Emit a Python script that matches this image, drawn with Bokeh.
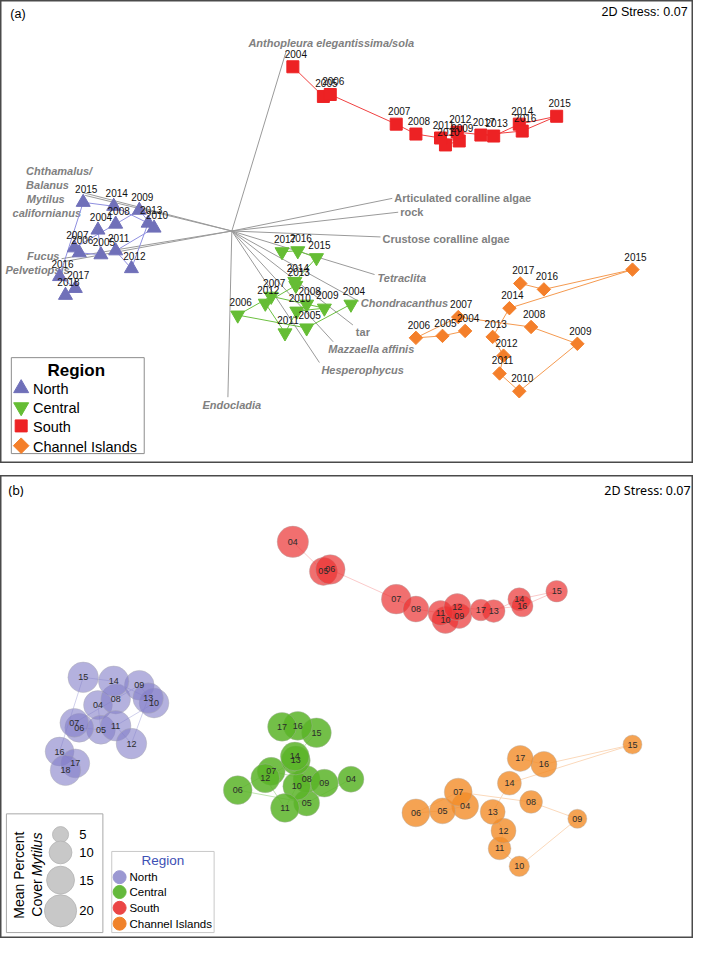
import numpy as np
from bokeh.plotting import figure
from bokeh.models import ColumnDataSource, Range1d
from bokeh.layouts import column
from bokeh.embed import file_html
from bokeh.resources import INLINE
from bokeh.core.properties import value

FONT = "Liberation Sans"

# ---------------- data (ordination coordinates, arbitrary units) ----------------
regions = ["North", "Central", "South", "Channel Islands"]

north_years = [2004, 2005, 2006, 2007, 2008, 2009, 2010, 2011, 2012, 2013, 2014, 2015, 2016, 2017, 2018]
north_x = [101, 104, 82, 77, 119, 143, 158, 119, 135, 152, 117, 86, 62, 78, 68]
north_y = [234, 259, 257, 252, 228, 214, 232, 255, 273, 227, 210, 206, 281, 293, 300]
north_mytilus = [16, 16, 16, 16, 17, 17, 17, 18, 18, 18, 18, 18, 16, 16, 18]

central_years = [2004, 2005, 2006, 2007, 2008, 2009, 2010, 2011, 2012, 2013, 2014, 2015, 2016, 2017]
central_x = [358, 313, 243, 277, 313, 331, 303, 291, 271, 302, 301, 323, 304, 288]
central_y = [309, 333, 320, 301, 309, 313, 316, 338, 308, 290, 286, 262, 255, 256]
central_mytilus = [13, 13, 16, 15, 14, 15, 15, 16, 16, 16, 16, 17, 16, 16]

south_years = [2004, 2005, 2006, 2007, 2008, 2009, 2010, 2011, 2012, 2013, 2014, 2015, 2016, 2017]
south_x = [299, 330, 337, 404, 424, 468, 454, 449, 466, 503, 529, 567, 532, 490]
south_y = [69, 99, 97, 127, 137, 144, 148, 141, 135, 139, 127, 119, 134, 138]
south_mytilus = [19, 15, 17, 17, 13, 12, 14, 12, 14, 10, 10, 9, 9, 9]

channel_years = [2004, 2005, 2006, 2007, 2008, 2009, 2010, 2011, 2012, 2013, 2014, 2015, 2016, 2017]
channel_x = [474, 451, 424, 467, 541, 588, 529, 509, 513, 502, 519, 644, 554, 530]
channel_y = [336, 341, 343, 322, 332, 349, 397, 379, 361, 342, 313, 274, 294, 288]
channel_mytilus = [14, 13, 15, 15, 10, 7, 8, 10, 12, 12, 11, 7, 13, 13]

# species vectors (biplot), origin and tips
vec_origin_x = 237
vec_origin_y = 235
species = ["Anthopleura elegantissima/sola", "Articulated coralline algae", "rock",
           "Crustose coralline algae", "Tetraclita", "Chondracanthus", "tar",
           "Mazzaella affinis", "Hesperophycus", "Endocladia", "Chthamalus/Balanus",
           "Mytilus californianus", "Fucus", "Pelvetiopsis"]
vec_x = [292, 400, 406, 388, 382, 366, 360, 340, 326, 233, 85, 88, 64, 66]
vec_y = [54, 202, 216, 241, 279, 306, 330, 347, 368, 403, 196, 199, 263, 266]

size_legend_values = [5, 10, 15, 20]

# ---------------- styles ----------------
mark_colors = ["#7070b9", "#65bd34", "#ed2224", "#f47f2a"]
line_colors_a = ["#8f8fe0", "#6cc040", "#f04040", "#f59a50"]
bubble_colors = ["#827dc8", "#5ab428", "#eb3232", "#f28c28"]
bubble_alpha = [0.6, 0.85, 0.7, 0.8]
line_colors_b = ["#d0d0ec", "#bfe3b0", "#fbcaca", "#fbd9bb"]
legend_b_colors = ["#9b98d2", "#64b93c", "#eb4646", "#f0822a"]

data = [
    (north_years, north_x, north_y, north_mytilus),
    (central_years, central_x, central_y, central_mytilus),
    (south_years, south_x, south_y, south_mytilus),
    (channel_years, channel_x, channel_y, channel_mytilus),
]


def bubble_size(v):
    return 7.2 * np.sqrt(np.asarray(v, dtype=float))


def make_fig():
    p = figure(width=693, height=463, x_range=Range1d(2, 706), y_range=Range1d(470, 2),
               output_backend="svg", toolbar_location=None,
               x_axis_location=None, y_axis_location=None, min_border=0)
    p.grid.grid_line_color = None
    p.outline_line_color = "#4a4a4a"
    p.outline_line_width = 2
    p.background_fill_color = "white"
    p.border_fill_color = "white"
    return p


def txt(p, x, y, s, size, align="left", style="normal", color="#000000", baseline="middle",
        angle=0.0, font=FONT):
    p.text(x=[x], y=[y], text=[s], text_font=value(font), text_font_size=f"{size}px",
           text_align=align, text_baseline=baseline, text_font_style=style,
           text_color=color, angle=angle)


# ================= panel (a) =================
pa = make_fig()

# species vectors
pa.segment(x0=[vec_origin_x] * len(vec_x), y0=[vec_origin_y] * len(vec_y), x1=vec_x, y1=vec_y,
           line_color="#9a9a9a", line_width=1)

GRAY = "#808080"
sp_labels = [
    ("Anthopleura elegantissima/sola", 338, 45, "center", "bold italic"),
    ("Articulated coralline algae", 402, 202, "left", "bold"),
    ("rock", 408, 216, "left", "bold"),
    ("Crustose coralline algae", 390, 243, "left", "bold"),
    ("Tetraclita", 385, 282, "left", "bold italic"),
    ("Chondracanthus", 368, 308, "left", "bold italic"),
    ("tar", 363, 337, "left", "bold"),
    ("Mazzaella affinis", 335, 354, "left", "bold italic"),
    ("Hesperophycus", 328, 375, "left", "bold italic"),
    ("Endocladia", 237, 411, "center", "bold italic"),
    ("Chthamalus/", 28, 174, "left", "bold italic"),
    ("Balanus", 28, 188, "left", "bold italic"),
    ("Mytilus", 48, 203, "center", "bold italic"),
    ("californianus", 49, 217, "center", "bold italic"),
    ("Fucus", 29, 260, "left", "bold italic"),
    ("Pelvetiopsis", 7, 274, "left", "bold italic"),
]
for s, x, y, al, st in sp_labels:
    txt(pa, x, y, s, 11, align=al, style=st, color=GRAY)

markers = ["triangle", "inverted_triangle", "square", "square"]
msizes = [14, 14, 12, 9.5]
mangles = [0, 0, 0, np.pi / 4]

for i, (yrs, xs, ys, myt) in enumerate(data):
    pa.line(xs, ys, line_color=line_colors_a[i], line_width=1)
for i, (yrs, xs, ys, myt) in enumerate(data):
    src = ColumnDataSource(dict(x=xs, y=ys, lab=[str(v) for v in yrs]))
    pa.scatter("x", "y", source=src, marker=markers[i], size=msizes[i], angle=mangles[i],
               fill_color=mark_colors[i], line_color=mark_colors[i])
for i, (yrs, xs, ys, myt) in enumerate(data):
    src = ColumnDataSource(dict(x=xs, y=ys, lab=[str(v) for v in yrs]))
    pa.text("x", "y", text="lab", source=src, text_font=value(FONT), text_font_size="10px",
            text_align="center", text_baseline="middle", x_offset=3, y_offset=-13,
            text_color="#111111")

txt(pa, 12, 16, "(a)", 12.5)
txt(pa, 700, 14, "2D Stress: 0.07", 12.5, align="right")

# legend (a)
pa.quad(left=[13], right=[148], top=[363], bottom=[460], fill_color="white",
        line_color="#8c8c8c", line_width=1)
txt(pa, 79, 376, "Region", 17, align="center", style="bold")
leg_y = [394, 413, 432, 452]
leg_sizes = [15, 15, 12, 11]
for i, r in enumerate(regions):
    pa.scatter([23], [leg_y[i]], marker=markers[i], size=leg_sizes[i], angle=mangles[i],
               fill_color=mark_colors[i], line_color=mark_colors[i])
    txt(pa, 35, leg_y[i] + 1, r, 14.5)

# ================= panel (b) =================
pb = make_fig()
for i, (yrs, xs, ys, myt) in enumerate(data):
    pb.line(xs, ys, line_color=line_colors_b[i], line_width=1)
for i, (yrs, xs, ys, myt) in enumerate(data):
    src = ColumnDataSource(dict(x=xs, y=ys, s=bubble_size(myt)))
    pb.scatter("x", "y", source=src, marker="circle", size="s",
               fill_color=bubble_colors[i], fill_alpha=bubble_alpha[i],
               line_color="#b0b0b0", line_alpha=0.5, line_width=0.8)
for i, (yrs, xs, ys, myt) in enumerate(data):
    src = ColumnDataSource(dict(x=xs, y=ys, lab=[f"{v % 100:02d}" for v in yrs]))
    pb.text("x", "y", text="lab", source=src, text_font=value(FONT), text_font_size="9px",
            text_align="center", text_baseline="middle", text_color="#2b2b2b")

txt(pb, 10, 17, "(b)", 12.5, font="Noto Sans")
txt(pb, 703, 17, "2D Stress: 0.07", 12.5, align="right", font="Noto Sans")

# size legend
pb.quad(left=[8], right=[106], top=[344], bottom=[464], fill_color="white",
        line_color="#a8a8a8", line_width=1)
size_leg_y = [365, 383, 411, 442]
pb.scatter([63] * 4, size_leg_y, marker="circle", size=bubble_size(size_legend_values),
           fill_color="#c8c8c8", line_color="#b4b4b4", line_width=0.8)
for v, yy in zip(size_legend_values, size_leg_y):
    txt(pb, 82, yy, str(v), 13)
txt(pb, 21, 450, "Mean Percent", 14, angle=np.pi / 2)
txt(pb, 39, 448, "Cover ", 14, angle=np.pi / 2)
txt(pb, 39, 407, "Mytilus", 14, style="italic", angle=np.pi / 2)

# region legend
pb.quad(left=[115], right=[219], top=[382], bottom=[464], fill_color="white",
        line_color="#c8c8c8", line_width=1)
txt(pb, 167, 391, "Region", 13.5, align="center", color="#3c50b4")
reg_leg_y = [408, 423, 439, 455]
for i, r in enumerate(regions):
    pb.scatter([123], [reg_leg_y[i]], marker="circle", size=13, fill_color=legend_b_colors[i],
               line_color=legend_b_colors[i])
    txt(pb, 133, reg_leg_y[i], r, 11.5)

layout = column(pa, pb, spacing=12)
open("out.html", "w").write(file_html(layout, INLINE))
